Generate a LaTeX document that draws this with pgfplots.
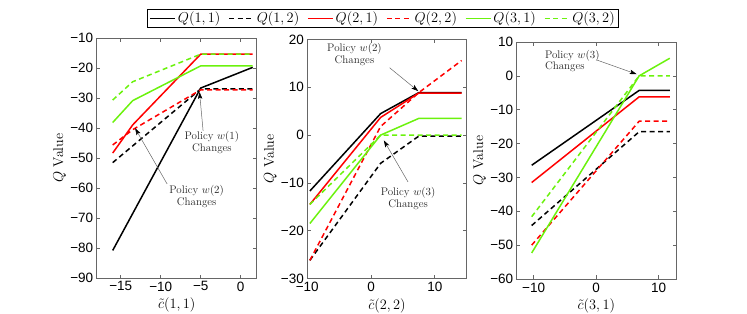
\documentclass[border=0pt]{standalone}
\usepackage{fontspec}
\usepackage{pgfplots}
\pgfplotsset{compat=1.18}
\usetikzlibrary{arrows.meta}
\newfontfamily\tickfont{Liberation Sans}
\definecolor{mygreen}{rgb}{0.42,0.95,0.05}
\definecolor{axgray}{rgb}{0.40,0.40,0.40}
\tikzset{
  q11/.style={black, solid, line width=1.5bp},
  q12/.style={black, dash pattern=on 5bp off 3.5bp, line width=1.5bp},
  q21/.style={red, solid, line width=1.5bp},
  q22/.style={red, dash pattern=on 5bp off 3.5bp, line width=1.5bp},
  q31/.style={mygreen, solid, line width=1.5bp},
  q32/.style={mygreen, dash pattern=on 5bp off 3.5bp, line width=1.5bp},
  ann/.style={font=\fontsize{11bp}{11.7bp}\selectfont, text=black!85, inner sep=0pt},
  arr/.style={draw=black!60, line width=0.5bp, -{Stealth[black, length=7bp, width=4.5bp, inset=1.5bp]}},
}
\pgfplotsset{
  myax/.style={
    scale only axis,
    axis line style={axgray, line width=0.7bp},
    every tick/.style={axgray, line width=0.7bp},
    tick align=inside,
    xtick pos=both, ytick pos=both,
    major tick length=3.5bp,
    tick label style={font=\tickfont\fontsize{13.5bp}{16bp}\selectfont},
    xticklabel style={inner sep=2bp, yshift=-1.5bp},
    label style={font=\fontsize{14bp}{17bp}\selectfont},
    xlabel style={at={([yshift=-27bp]axis description cs:0.5,0)}, anchor=center, inner sep=1bp},
    ylabel style={at={([xshift=-37bp]axis description cs:0,0.5)}, anchor=center},
    ylabel={$Q$ Value},
  },
}
\begin{document}
\begin{tikzpicture}
\path[use as bounding box] (0,0) rectangle (747bp,314bp);
% Panel 1
\begin{axis}[myax,
  at={(96.7bp,36bp)}, anchor=south west,
  width=160bp, height=239.7bp,
  xmin=-18, xmax=2, ymin=-90, ymax=-10,
  xtick={-15,-10,-5,0}, xticklabels={−15,−10,−5,0},
  ytick={-90,-80,-70,-60,-50,-40,-30,-20,-10},
  yticklabels={−90,−80,−70,−60,−50,−40,−30,−20,−10},
  xlabel={$\tilde{c}(1,1)$},
  legend style={at={(1.79,1.0835)}, anchor=center, draw=black, line width=0.8bp,
    font=\fontsize{13.5bp}{16bp}\selectfont, inner xsep=2bp, inner ysep=1bp,
    /tikz/every even column/.append style={column sep=6bp}},
  legend columns=6,
  legend image code/.code={\draw[#1] (0bp,0bp) -- (25bp,0bp);},
]
\addplot[q11] coordinates {(-16,-80.8) (-5,-26.6) (1.5,-19.7)};
\addplot[q12] coordinates {(-16,-51.5) (-13.5,-45.9) (-5,-26.9) (1.5,-26.9)};
\addplot[q21] coordinates {(-16,-48.3) (-13.5,-38.9) (-5,-15.3) (1.5,-15.3)};
\addplot[q22] coordinates {(-16,-45.6) (-13.5,-40.5) (-5,-27.2) (1.5,-27.2)};
\addplot[q31] coordinates {(-16,-38.1) (-13.5,-30.8) (-5,-19.2) (1.5,-19.2)};
\addplot[q32] coordinates {(-16,-30.6) (-13.5,-24.5) (-5,-15.3) (1.5,-15.3)};
\legend{{$Q(1,1)$},{$Q(1,2)$},{$Q(2,1)$},{$Q(2,2)$},{$Q(3,1)$},{$Q(3,2)$}}
\node[ann, align=center] at (axis cs:-3.6,-44.8) {Policy $w(1)$\\Changes};
\draw[arr] (axis cs:-4.7,-40.9) -- (axis cs:-5.15,-27.9);
\node[ann, align=center] at (axis cs:-5.5,-62.8) {Policy $w(2)$\\Changes};
\draw[arr] (axis cs:-9.2,-58.6) -- (axis cs:-13.2,-40);
\end{axis}
% Panel 2
\begin{axis}[myax,
  at={(307.3bp,35.5bp)}, anchor=south west,
  width=159.4bp, height=239bp,
  xmin=-10, xmax=15, ymin=-30, ymax=20,
  xtick={-10,0,10}, xticklabels={−10,0,10},
  ytick={-30,-20,-10,0,10,20}, yticklabels={−30,−20,−10,0,10,20},
  xlabel={$\tilde{c}(2,2)$},
]
\addplot[q11] coordinates {(-9.6,-11.7) (1.5,4.5) (7.5,8.9) (14.2,8.9)};
\addplot[q12] coordinates {(-9.6,-26.2) (1.5,-5.9) (7.5,-0.2) (14.2,-0.2)};
\addplot[q21] coordinates {(-9.6,-14.5) (1.5,3.7) (7.5,8.8) (14.2,8.8)};
\addplot[q22] coordinates {(-9.6,-26.2) (1.5,1.8) (7.5,8.9) (14.2,15.6)};
\addplot[q31] coordinates {(-9.6,-18.5) (1.5,0) (7.5,3.5) (14.2,3.5)};
\addplot[q32] coordinates {(-9.6,-14.5) (1.5,0) (14.2,0)};
\node[ann, align=center] at (axis cs:-2.6,16.9) {Policy $w(2)$\\Changes};
\draw[arr] (axis cs:2.9,14.1) -- (axis cs:7.4,9.2);
\node[ann, align=center] at (axis cs:5.8,-13.3) {Policy $w(3)$\\Changes};
\draw[arr] (axis cs:5.8,-9.8) -- (axis cs:2.0,-1.1);
\end{axis}
% Panel 3
\begin{axis}[myax,
  at={(516.7bp,35bp)}, anchor=south west,
  width=159.3bp, height=237bp,
  xmin=-12.7, xmax=12.8, ymin=-60, ymax=10,
  xtick={-10,0,10}, xticklabels={−10,0,10},
  ytick={-60,-50,-40,-30,-20,-10,0,10}, yticklabels={−60,−50,−40,−30,−20,−10,0,10},
  xlabel={$\tilde{c}(3,1)$},
]
\addplot[q11] coordinates {(-10.3,-26.4) (6.9,-4.3) (11.8,-4.3)};
\addplot[q12] coordinates {(-10.3,-44.2) (6.9,-16.5) (11.8,-16.5)};
\addplot[q21] coordinates {(-10.3,-31.5) (6.9,-6.2) (11.8,-6.2)};
\addplot[q22] coordinates {(-10.3,-50) (6.9,-13.4) (11.8,-13.4)};
\addplot[q31] coordinates {(-10.3,-52.3) (6.9,0) (11.8,5.2)};
\addplot[q32] coordinates {(-10.3,-41.6) (6.9,0) (11.8,0)};
\node[ann, align=left, anchor=west] at (axis cs:-8.2,4.4) {Policy $w(3)$\\Changes};
\draw[arr] (axis cs:0.1,4.7) -- (axis cs:6.5,0.5);
\end{axis}
\end{tikzpicture}
\end{document}
